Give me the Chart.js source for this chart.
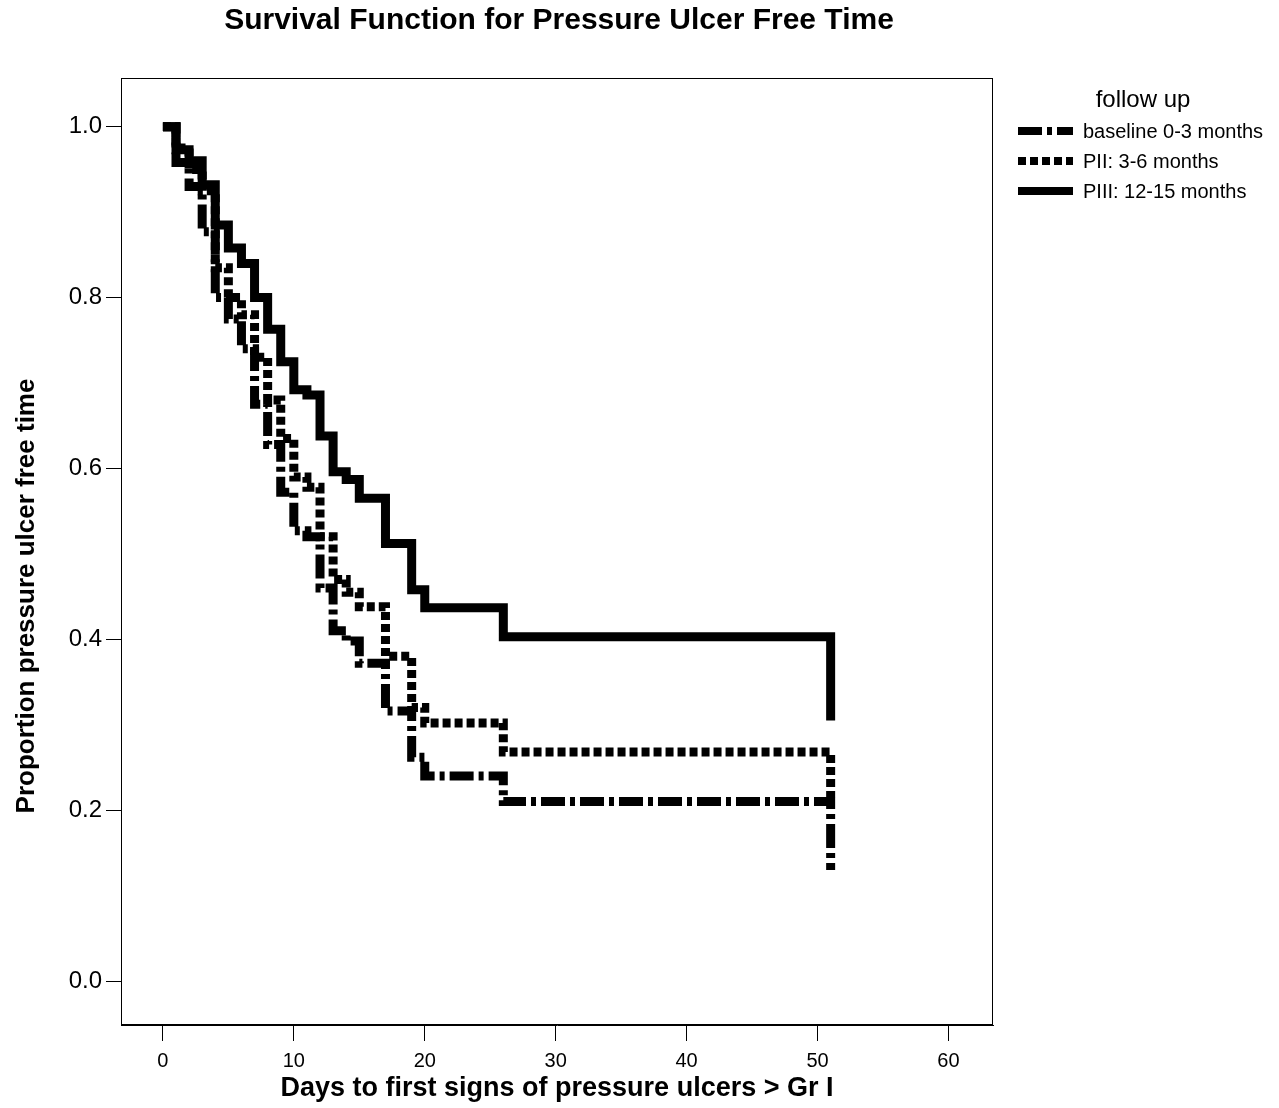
<!DOCTYPE html>
<html lang="en">
<head>
    <meta charset="UTF-8">
    <title>Survival Function for Pressure Ulcer Free Time</title>
    <script src="https://cdn.jsdelivr.net/npm/chart.js"></script>
    <style>
        html, body { margin: 0; padding: 0; background: #fff; }
        #wrap { width: 1279px; height: 1108px; }
    </style>
</head>
<body>
    <div id="wrap">
        <canvas id="survChart" width="1279" height="1108"></canvas>
    </div>

    <script>
        // event days (shared by the three follow-up groups)
        const days = [0, 1, 2, 3, 4, 5, 6, 7, 8, 9, 10, 11, 12, 13, 14, 15, 17, 19, 20, 26, 51];

        // survival proportion after each day
        const baselineSurv = [1.0, 0.958, 0.93, 0.877, 0.80, 0.775, 0.74, 0.675, 0.628, 0.572, 0.527, 0.52, 0.46, 0.41, 0.398, 0.372, 0.316, 0.262, 0.24, 0.21, 0.13];
        const piiSurv      = [1.0, 0.975, 0.95, 0.925, 0.835, 0.80, 0.78, 0.73, 0.68, 0.635, 0.59, 0.578, 0.52, 0.47, 0.455, 0.438, 0.38, 0.32, 0.302, 0.268, 0.215];
        const piiiSurv     = [1.0, 0.973, 0.96, 0.932, 0.885, 0.858, 0.84, 0.80, 0.763, 0.725, 0.692, 0.686, 0.638, 0.596, 0.587, 0.565, 0.512, 0.458, 0.437, 0.403, 0.305];

        const groupNames = ['baseline 0-3 months', 'PII: 3-6 months', 'PIII: 12-15 months'];
        const xTicks = [0, 10, 20, 30, 40, 50, 60];
        const yTicks = [0.0, 0.2, 0.4, 0.6, 0.8, 1.0];

        const FONT = '"Liberation Sans", Arial, Helvetica, sans-serif';
        const dashes = [[24, 5, 5, 5], [8, 4], []];

        const toPoints = (surv) => days.map((d, i) => ({ x: d, y: surv[i] }));

        // frame around plot area, titles and legend
        const extras = {
            id: 'extras',
            afterDraw(chart) {
                const { ctx, chartArea: a } = chart;
                ctx.save();
                ctx.strokeStyle = '#000';
                ctx.lineWidth = 1;
                ctx.strokeRect(a.left + 0.5, a.top + 0.5, a.right - a.left - 1, a.bottom - a.top - 1);

                ctx.fillStyle = '#000';
                ctx.textAlign = 'center';
                ctx.textBaseline = 'middle';
                ctx.font = 'bold 30px ' + FONT;
                ctx.fillText('Survival Function for Pressure Ulcer Free Time', 559, 21);

                ctx.font = 'bold 27px ' + FONT;
                ctx.fillText('Days to first signs of pressure ulcers > Gr I', (a.left + a.right) / 2, 1089);

                ctx.save();
                ctx.translate(27, 596);
                ctx.rotate(-Math.PI / 2);
                ctx.font = 'bold 26px ' + FONT;
                ctx.fillText('Proportion pressure ulcer free time', 0, 0);
                ctx.restore();

                // legend
                ctx.font = '24px ' + FONT;
                ctx.fillText('follow up', 1143, 100);
                ctx.textAlign = 'left';
                ctx.font = '20px ' + FONT;
                groupNames.forEach((name, i) => {
                    const y = 131 + i * 30;
                    ctx.beginPath();
                    ctx.setLineDash(dashes[i]);
                    ctx.lineWidth = 8;
                    ctx.moveTo(1018, y);
                    ctx.lineTo(1073, y);
                    ctx.stroke();
                    ctx.setLineDash([]);
                    ctx.fillText(name, 1083, y + 1);
                });
                ctx.restore();
            }
        };

        const makeSet = (label, surv, i) => ({
            label: label,
            data: toPoints(surv),
            stepped: 'before',
            borderColor: '#000',
            borderWidth: 9,
            borderDash: dashes[i],
            pointRadius: 0,
            fill: false
        });

        new Chart(document.getElementById('survChart'), {
            type: 'line',
            data: {
                datasets: [
                    makeSet(groupNames[0], baselineSurv, 0),
                    makeSet(groupNames[1], piiSurv, 1),
                    makeSet(groupNames[2], piiiSurv, 2)
                ]
            },
            options: {
                responsive: false,
                animation: false,
                devicePixelRatio: 1,
                layout: { padding: { left: 0, right: 286, top: 78, bottom: 0 } },
                plugins: {
                    legend: { display: false },
                    tooltip: { enabled: false },
                    title: { display: false }
                },
                scales: {
                    x: {
                        type: 'linear',
                        min: -3.2,
                        max: 63.4,
                        afterBuildTicks: (s) => { s.ticks = xTicks.map(v => ({ value: v })); },
                        afterFit: (s) => { s.height = 83; },
                        grid: { drawOnChartArea: false, drawTicks: true, tickLength: 16, color: '#000' },
                        border: { display: true, color: '#000' },
                        ticks: { color: '#000', padding: 8, maxRotation: 0, font: { family: FONT, size: 20 } }
                    },
                    y: {
                        type: 'linear',
                        min: -0.0515,
                        max: 1.057,
                        afterBuildTicks: (s) => { s.ticks = yTicks.map(v => ({ value: v })); },
                        afterFit: (s) => { s.width = 121; },
                        grid: { drawOnChartArea: false, drawTicks: true, tickLength: 15, color: '#000' },
                        border: { display: true, color: '#000' },
                        ticks: {
                            color: '#000', padding: 4,
                            font: { family: FONT, size: 24 },
                            callback: (v) => Number(v).toFixed(1)
                        }
                    }
                }
            },
            plugins: [extras]
        });
    </script>
</body>
</html>
